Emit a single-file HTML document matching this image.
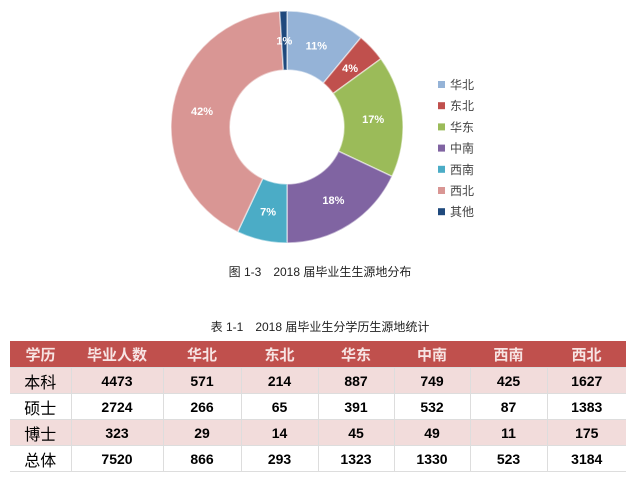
<!DOCTYPE html>
<html><head><meta charset="utf-8"><style>
body{margin:0;width:640px;height:481px;background:#fff;font-family:"Liberation Sans","Noto Sans CJK SC",sans-serif;position:relative;overflow:hidden}
.cap{position:absolute;left:0;width:640px;text-align:center;font-size:12px;color:#222}
table{position:absolute;left:10px;top:341px;width:616px;border-collapse:collapse;font-size:14px;font-weight:bold}
td,th{height:25px;padding:0;text-align:center;border-left:1px solid #ddd;border-bottom:1px solid #ddd}
th{background:#c0504d;color:#f7e4e3;height:26px;font-size:15px;border-left:none}
tr.o td{background:#f2dcdb}
td:first-child{font-weight:normal;font-size:16px;border-left:none}
</style></head><body>
<svg width="640" height="300" style="position:absolute;left:0;top:0">
<g id="slices"></g><g id="legend"></g>
</svg>
<div class="cap" style="top:263px">图 1-3　2018 届毕业生生源地分布</div>
<div class="cap" style="top:318px">表 1-1　2018 届毕业生分学历生源地统计</div>
<table>
<colgroup><col style="width:61px"><col style="width:92px"><col style="width:78px"><col style="width:77px"><col style="width:76px"><col style="width:76px"><col style="width:77px"><col style="width:79px"></colgroup>
<tr><th>学历</th><th>毕业人数</th><th>华北</th><th>东北</th><th>华东</th><th>中南</th><th>西南</th><th>西北</th></tr>
<tr class="o"><td>本科</td><td>4473</td><td>571</td><td>214</td><td>887</td><td>749</td><td>425</td><td>1627</td></tr>
<tr><td>硕士</td><td>2724</td><td>266</td><td>65</td><td>391</td><td>532</td><td>87</td><td>1383</td></tr>
<tr class="o"><td>博士</td><td>323</td><td>29</td><td>14</td><td>45</td><td>49</td><td>11</td><td>175</td></tr>
<tr><td>总体</td><td>7520</td><td>866</td><td>293</td><td>1323</td><td>1330</td><td>523</td><td>3184</td></tr>
</table>
<script>
const categories=["华北","东北","华东","中南","西南","西北","其他"];
const values=[11,4,17,18,7,42,1];
const colors=["#95b3d7","#c0504d","#9bbb59","#8064a2","#4bacc6","#d99694","#1f497d"];
const NS="http://www.w3.org/2000/svg";
const cx=287,cy=127,R=116,r=57;
const total=values.reduce((a,b)=>a+b,0);
const sg=document.getElementById('slices'),lg=document.getElementById('legend');
function pt(a,rad){return [cx+rad*Math.sin(a),cy-rad*Math.cos(a)];}
let acc=0;
values.forEach((v,i)=>{
 const a0=acc/total*2*Math.PI,a1=(acc+v)/total*2*Math.PI;acc+=v;
 const lf=(a1-a0)>Math.PI?1:0;
 const p1=pt(a0,R),p2=pt(a1,R),p3=pt(a1,r),p4=pt(a0,r);
 const p=document.createElementNS(NS,'path');
 p.setAttribute('d',`M${p1}A${R},${R} 0 ${lf} 1 ${p2}L${p3}A${r},${r} 0 ${lf} 0 ${p4}Z`);
 p.setAttribute('fill',colors[i]);p.setAttribute('stroke','rgba(255,255,255,0.5)');p.setAttribute('stroke-width','1.5');
 
 
 sg.appendChild(p);
 const m=pt((a0+a1)/2,(R+r)/2);
 const t=document.createElementNS(NS,'text');
 t.setAttribute('x',m[0]);t.setAttribute('y',m[1]+4);t.setAttribute('text-anchor','middle');
 t.setAttribute('fill','#fff');t.setAttribute('font-size','11');t.setAttribute('font-weight','bold');
 t.textContent=v+'%';
 
 
 sg.appendChild(t);
 const y=85+i*21.2;
 const s=document.createElementNS(NS,'rect');
 s.setAttribute('x',438);s.setAttribute('y',y-4);s.setAttribute('width',7);s.setAttribute('height',7);s.setAttribute('fill',colors[i]);
 
 
 lg.appendChild(s);
 const lt=document.createElementNS(NS,'text');
 lt.setAttribute('x',450);lt.setAttribute('y',y+4);lt.setAttribute('font-size','12');lt.setAttribute('fill','#444');
 lt.textContent=categories[i];
 
 
 lg.appendChild(lt);
});
</script>
</body></html>
